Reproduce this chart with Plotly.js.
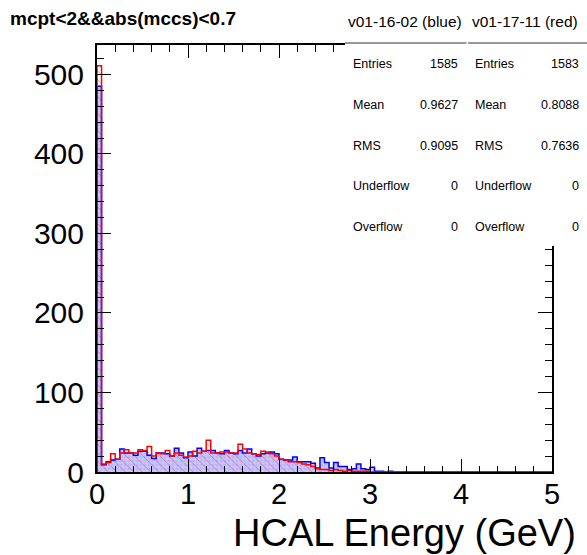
<!DOCTYPE html>
<html>
<head>
<meta charset="utf-8">
<script src="https://cdn.plot.ly/plotly-3.0.1.min.js"></script>
<style>html,body{margin:0;padding:0;background:#fff;}#chart{width:587px;height:555px;}</style>
</head>
<body>
<div id="chart"></div>
<script>
// ---- data ----
const binLow = 0;
const binWidth = 0.05;
const blueCounts = [485,9,13,15,16,29,24,24,21,26,26,21,17,24,24,23,20,30,24,18,
  25,20,30,26,27,27,24,23,27,24,23,27,24,29,23,20,23,24,25,23,
  16,15,15,19,13,13,13,11,5,18,12,5,12,7,7,3,4,10,4,3,
  6,1,1,0,1,0,0,0,0,0,0,0,0,0,0,0,0,0,0,0,
  0,0,0,0,0,0,0,0,0,0,0,0,0,0,0,0,0,0,0,0];
const redCounts = [511,10,12,23,16,24,28,24,24,28,27,32,20,24,23,27,20,24,21,19,
  20,26,24,26,40,24,24,25,25,24,24,35,29,24,23,22,26,25,23,20,
  16,15,13,13,12,10,9,7,4,3,3,2,3,2,1,2,1,1,1,1,
  0,0,0,0,0,0,0,0,0,0,0,0,0,0,0,0,0,0,0,0,
  0,0,0,0,0,0,0,0,0,0,0,0,0,0,0,0,0,0,0,0];
const xTickVals = [0,1,2,3,4,5];
const yTickVals = [0,100,200,300,400,500];
const blueName = "v01-16-02 (blue)";
const redName = "v01-17-11 (red)";
const statLabels = ["Entries","Mean","RMS","Underflow","Overflow"];
const blueStats = ["1585","0.9627","0.9095","0","0"];
const redStats = ["1583","0.8088","0.7636","0","0"];
const cutTitle = "mcpt&lt;2&amp;&amp;abs(mccs)&lt;0.7";
const xTitle = "HCAL Energy (GeV)";

// ---- derived ----
const centers = blueCounts.map((_, i) => binLow + binWidth * (i + 0.5));
function stepXY(counts) {
  const xs = [binLow], ys = [0];
  counts.forEach((c, i) => { xs.push(binLow + binWidth * i); ys.push(c); });
  xs.push(binLow + binWidth * counts.length); ys.push(0);
  return {xs, ys};
}
const bStep = stepXY(blueCounts), rStep = stepXY(redCounts);

// pixel -> paper helpers
const L = 97, R = 552, T = 45, B = 472;
const px = x => (x - L) / (R - L);
const py = y => (B - y) / (B - T);

const traces = [
  {type:'bar', x:centers, y:blueCounts, width:binWidth, hoverinfo:'skip',
   marker:{color:'#b8b8ff', line:{width:0},
     pattern:{shape:'+', fgcolor:'#ffffff', bgcolor:'#b8b8ff', size:4, solidity:0.25, fillmode:'overlay'}}},
  {type:'bar', x:centers, y:redCounts, width:binWidth, hoverinfo:'skip',
   marker:{color:'rgba(0,0,0,0)', line:{width:0},
     pattern:{shape:'\\', fgcolor:'#ff2020', bgcolor:'rgba(0,0,0,0)', size:6, solidity:0.15, fillmode:'overlay'}}},
  {type:'scatter', mode:'lines', x:bStep.xs, y:bStep.ys, line:{shape:'hv', color:'#0000ff', width:1.5}, hoverinfo:'skip'},
  {type:'scatter', mode:'lines', x:rStep.xs, y:rStep.ys, line:{shape:'hv', color:'#ff0000', width:1.5}, hoverinfo:'skip'}
];

const yTickFont = {family:'Liberation Sans, Arial, sans-serif', size:30, color:'#000'};
const xTickFont = {family:'Liberation Sans, Arial, sans-serif', size:29, color:'#000'};
const statFont = {family:'Liberation Sans, Arial, sans-serif', size:12.5, color:'#000'};
const headFont = {family:'Liberation Sans, Arial, sans-serif', size:15.5, color:'#000'};

const rowY = [64, 104.5, 145.5, 186, 226.5];
const annotations = [
  {text:'<b>' + cutTitle + '</b>', xref:'paper', yref:'paper', x:px(8), y:py(19), xanchor:'left', yanchor:'middle',
   showarrow:false, font:{family:'Liberation Sans, Arial, sans-serif', size:19, color:'#000'}},
  {text:xTitle, xref:'paper', yref:'paper', x:px(578), y:py(533), xanchor:'right', yanchor:'middle',
   showarrow:false, font:{family:'Liberation Sans, Arial, sans-serif', size:38, color:'#000'}},
  {text:blueName, xref:'paper', yref:'paper', x:px(405), y:py(21.5), xanchor:'center', yanchor:'middle', showarrow:false, font:headFont},
  {text:redName, xref:'paper', yref:'paper', x:px(525), y:py(21.5), xanchor:'center', yanchor:'middle', showarrow:false, font:headFont}
];
statLabels.forEach((lab, i) => {
  annotations.push({text:lab, xref:'paper', yref:'paper', x:px(351), y:py(rowY[i]), xanchor:'left', yanchor:'middle', showarrow:false, font:statFont});
  annotations.push({text:blueStats[i], xref:'paper', yref:'paper', x:px(459.5), y:py(rowY[i]), xanchor:'right', yanchor:'middle', showarrow:false, font:statFont});
  annotations.push({text:lab, xref:'paper', yref:'paper', x:px(472.5), y:py(rowY[i]), xanchor:'left', yanchor:'middle', showarrow:false, font:statFont});
  annotations.push({text:redStats[i], xref:'paper', yref:'paper', x:px(581), y:py(rowY[i]), xanchor:'right', yanchor:'middle', showarrow:false, font:statFont});
});

const shapes = [
  {type:'rect', xref:'paper', yref:'paper', x0:px(345), x1:px(600), y0:py(246), y1:py(-5), fillcolor:'#ffffff', line:{width:0}, layer:'above'},
  {type:'line', xref:'paper', yref:'paper', x0:px(345), x1:px(466.5), y0:py(43), y1:py(43), line:{color:'#333', width:1}, layer:'above'},
  {type:'line', xref:'paper', yref:'paper', x0:px(468), x1:px(587), y0:py(43), y1:py(43), line:{color:'#333', width:1}, layer:'above'}
];

const layout = {
  width:587, height:555,
  margin:{l:L, r:587 - R, t:T, b:555 - B, pad:0},
  paper_bgcolor:'#fff', plot_bgcolor:'#fff',
  showlegend:false, barmode:'overlay', bargap:0,
  xaxis:{range:[0,5], tickvals:xTickVals, ticktext:xTickVals.map(String), ticks:'inside', ticklen:13, tickwidth:1, tickcolor:'#000',
    showline:true, linewidth:2, linecolor:'#000', mirror:'allticks', showgrid:false, zeroline:false,
    tickfont:xTickFont, ticklabelstandoff:-5,
    minor:{ticks:'inside', ticklen:6.5, dtick:0.2, tickwidth:1, tickcolor:'#000', showgrid:false}},
  yaxis:{range:[0,537], tickvals:yTickVals, ticktext:yTickVals.map(String), ticks:'inside', ticklen:14, tickwidth:1, tickcolor:'#000',
    showline:true, linewidth:2, linecolor:'#000', mirror:'allticks', showgrid:false, zeroline:false,
    tickfont:yTickFont, ticklabelstandoff:5,
    minor:{ticks:'inside', ticklen:7, dtick:20, tickwidth:1, tickcolor:'#000', showgrid:false}},
  annotations:annotations,
  shapes:shapes
};

Plotly.newPlot('chart', traces, layout, {staticPlot:true, displayModeBar:false});
</script>
</body>
</html>
